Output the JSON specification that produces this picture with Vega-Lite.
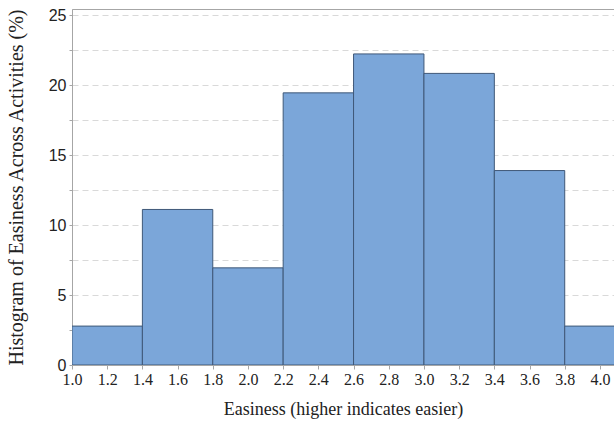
{
  "$schema": "https://vega.github.io/schema/vega-lite/v6.json",
  "autosize": {"type": "none"},
  "padding": {"left": 72, "top": 9, "right": 0, "bottom": 65},
  "width": 542,
  "height": 356,
  "background": "white",
  "data": {
    "values": [
      {"bin_start": 1.0, "bin_end": 1.4, "percent": 2.78},
      {"bin_start": 1.4, "bin_end": 1.8, "percent": 11.11},
      {"bin_start": 1.8, "bin_end": 2.2, "percent": 6.94},
      {"bin_start": 2.2, "bin_end": 2.6, "percent": 19.44},
      {"bin_start": 2.6, "bin_end": 3.0, "percent": 22.22},
      {"bin_start": 3.0, "bin_end": 3.4, "percent": 20.83},
      {"bin_start": 3.4, "bin_end": 3.8, "percent": 13.89},
      {"bin_start": 3.8, "bin_end": 4.2, "percent": 2.78}
    ]
  },
  "config": {
    "view": {"stroke": "#a6a6a6", "strokeWidth": 1}
  },
  "mark": {
    "type": "rect",
    "fill": "#7ba6d9",
    "stroke": "#3f5878",
    "strokeWidth": 1,
    "clip": true
  },
  "encoding": {
    "x": {
      "field": "bin_start",
      "type": "quantitative",
      "scale": {"domain": [1.0, 4.08], "nice": false, "zero": false},
      "axis": {
        "values": [1.0, 1.2, 1.4, 1.6, 1.8, 2.0, 2.2, 2.4, 2.6, 2.8, 3.0, 3.2, 3.4, 3.6, 3.8, 4.0],
        "format": ".1f",
        "title": "Easiness (higher indicates easier)",
        "titleFont": "Liberation Serif",
        "titleFontSize": 18,
        "titleFontWeight": "normal",
        "titleColor": "#222222",
        "titlePadding": 13,
        "labelFont": "Liberation Serif",
        "labelFontSize": 16,
        "labelColor": "#222222",
        "labelPadding": 2,
        "labelFlush": false,
        "grid": false,
        "domain": true,
        "domainColor": "#a6a6a6",
        "tickColor": "#a6a6a6",
        "tickSize": 4
      }
    },
    "x2": {"field": "bin_end"},
    "y": {
      "field": "percent",
      "type": "quantitative",
      "scale": {"domain": [0, 25.43], "nice": false},
      "axis": {
        "values": [0, 2.5, 5, 7.5, 10, 12.5, 15, 17.5, 20, 22.5, 25],
        "labelExpr": "datum.value % 5 == 0 ? datum.label : ''",
        "title": "Histogram of Easiness Across Activities (%)",
        "titleFont": "Liberation Serif",
        "titleFontSize": 20,
        "titleFontWeight": "normal",
        "titleColor": "#222222",
        "titlePadding": 22,
        "labelFont": "Liberation Sans",
        "labelFontSize": 16,
        "labelColor": "#222222",
        "labelPadding": 3,
        "grid": true,
        "gridColor": "#d9d9d9",
        "gridDash": [6, 4],
        "gridWidth": 1,
        "domainColor": "#a6a6a6",
        "tickColor": "#a6a6a6",
        "tickSize": 3
      }
    },
    "y2": {"datum": 0}
  }
}
